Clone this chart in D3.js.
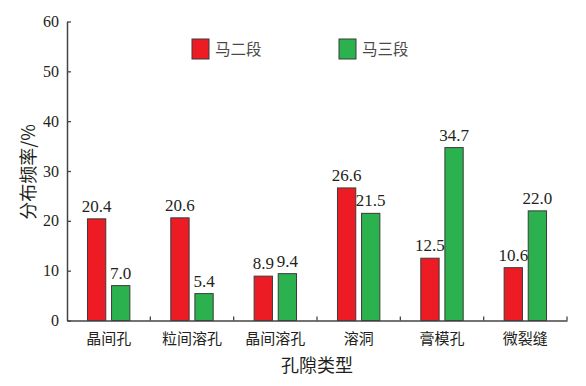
<!DOCTYPE html>
<html>
<head>
<meta charset="utf-8">
<script src="https://cdn.jsdelivr.net/npm/d3@7"></script>
<style>
  body { margin: 0; background: #fff; }
  svg text { fill: #231f20; }
  .serif { font-family: 'Liberation Serif', 'Times New Roman', serif; }
  .cjk { font-family: 'Noto Sans CJK SC', sans-serif; }
</style>
</head>
<body>
<div id="chart"></div>
<script>
const categories = ['晶间孔', '粒间溶孔', '晶间溶孔', '溶洞', '膏模孔', '微裂缝'];
const seriesNames = ['马二段', '马三段'];
const ma2Values = [20.4, 20.6, 8.9, 26.6, 12.5, 10.6];
const ma3Values = [7.0, 5.4, 9.4, 21.5, 34.7, 22.0];
const yTicks = [0, 10, 20, 30, 40, 50, 60];
const colors = ['#ed1c24', '#2bb24f'];

const chartW = 586, chartH = 386;
const plotLeft = 67, plotRight = 567, plotTop = 21.5, plotBottom = 320.5;

const rows = categories.map((c, i) => ({ cat: c, vals: [ma2Values[i], ma3Values[i]] }));

const svg = d3.select('#chart').append('svg')
    .attr('width', chartW)
    .attr('height', chartH);

// Scales
const x0 = d3.scaleBand().domain(categories).range([plotLeft, plotRight]);
const x1 = d3.scaleBand().domain(d3.range(seriesNames.length))
    .range([0, x0.bandwidth()])
    .paddingInner(0.24)
    .paddingOuter(0.85);
const y = d3.scaleLinear().domain([0, 60]).range([plotBottom, plotTop]);

// Bars
const groups = svg.selectAll('g.grp')
    .data(rows)
    .enter()
    .append('g')
    .attr('class', 'grp')
    .attr('transform', d => 'translate(' + x0(d.cat) + ',0)');

groups.selectAll('rect')
    .data(d => d.vals)
    .enter()
    .append('rect')
    .attr('x', (d, i) => x1(i))
    .attr('y', d => y(d))
    .attr('width', x1.bandwidth())
    .attr('height', d => y(0) - y(d))
    .attr('fill', (d, i) => colors[i])
    .attr('stroke', '#3a3a3a')
    .attr('stroke-width', 1);

groups.selectAll('text.val')
    .data(d => d.vals)
    .enter()
    .append('text')
    .attr('class', 'val serif')
    .attr('x', (d, i) => x1(i) + x1.bandwidth() / 2)
    .attr('y', d => y(d) - 7)
    .attr('text-anchor', 'middle')
    .style('font-size', '17px')
    .text(d => d.toFixed(1));

// Axes
const yAxis = d3.axisLeft(y).tickValues(yTicks).tickSizeInner(-4).tickSizeOuter(0).tickPadding(8);
const gy = svg.append('g')
    .attr('transform', 'translate(' + plotLeft + ',0)')
    .call(yAxis)
    .attr('font-family', null);
gy.select('.domain').attr('stroke', '#444').attr('stroke-width', 1.5);
gy.selectAll('.tick line').attr('stroke', '#444').attr('stroke-width', 1.3);
gy.selectAll('.tick text')
    .attr('class', 'serif')
    .style('font-size', '16px');

const xAxis = d3.axisBottom(x0).tickSize(0).tickPadding(13);
const gx = svg.append('g')
    .attr('transform', 'translate(0,' + plotBottom + ')')
    .call(xAxis)
    .attr('font-family', null);
gx.select('.domain').attr('stroke', '#444').attr('stroke-width', 1.5);
gx.selectAll('.tick text')
    .attr('class', 'cjk')
    .style('font-size', '15px');

// category separator ticks
svg.selectAll('line.sep')
    .data(categories)
    .enter()
    .append('line')
    .attr('class', 'sep')
    .attr('x1', d => x0(d) + x0.bandwidth())
    .attr('x2', d => x0(d) + x0.bandwidth())
    .attr('y1', plotBottom)
    .attr('y2', plotBottom - 4)
    .attr('stroke', '#444')
    .attr('stroke-width', 1.3);

// Axis titles
svg.append('text')
    .attr('class', 'cjk')
    .attr('x', (plotLeft + plotRight) / 2)
    .attr('y', 372)
    .attr('text-anchor', 'middle')
    .style('font-size', '18px')
    .text('孔隙类型');

svg.append('text')
    .attr('class', 'cjk')
    .attr('transform', 'translate(35,172) rotate(-90)')
    .attr('text-anchor', 'middle')
    .style('font-size', '18px')
    .text('分布频率/%');

// Legend
const legendX = [192, 339];
const legend = svg.selectAll('g.leg')
    .data(seriesNames)
    .enter()
    .append('g')
    .attr('class', 'leg')
    .attr('transform', (d, i) => 'translate(' + legendX[i] + ',39)');

legend.append('rect')
    .attr('width', 17)
    .attr('height', 20)
    .attr('fill', (d, i) => colors[i])
    .attr('stroke', '#3a3a3a')
    .attr('stroke-width', 1);

legend.append('text')
    .attr('class', 'cjk')
    .attr('x', 23)
    .attr('y', 16)
    .style('font-size', '15.5px')
    .style('fill', '#4a4a4a')
    .text(d => d);
</script>
</body>
</html>
